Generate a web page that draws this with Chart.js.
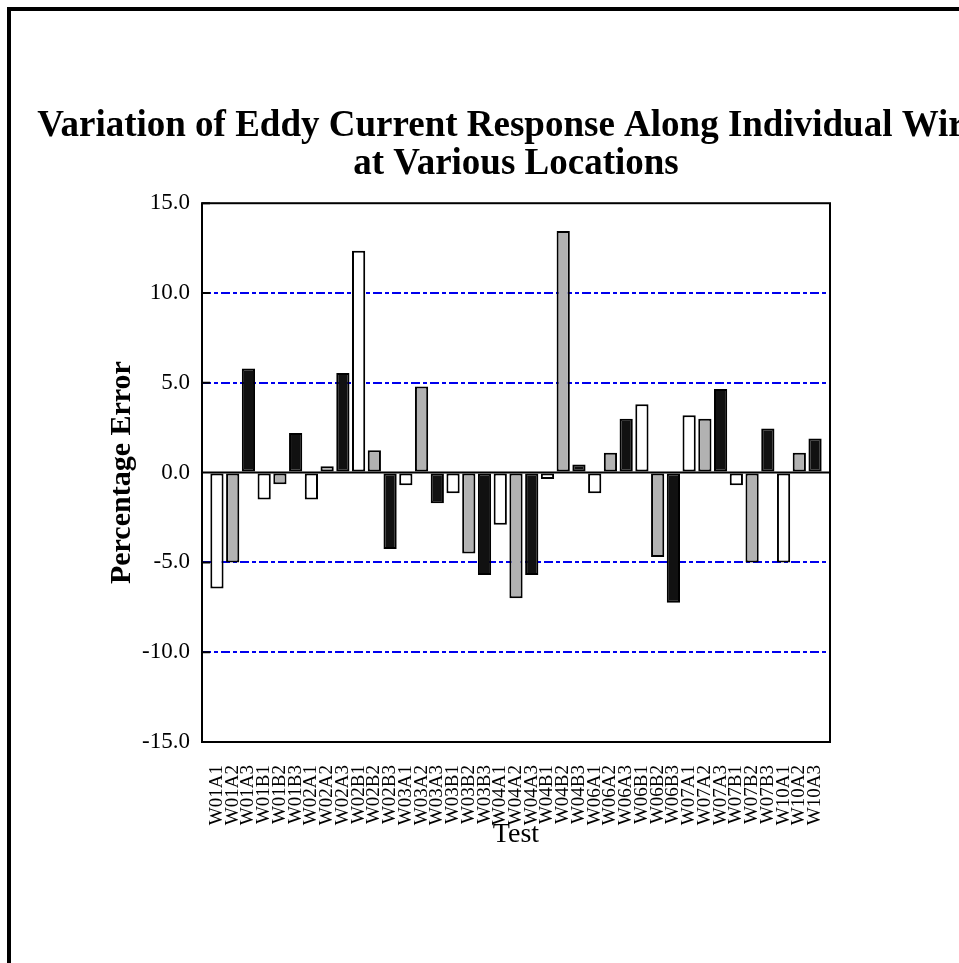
<!DOCTYPE html>
<html>
<head>
<meta charset="utf-8">
<title>Eddy Current Response</title>
<script src="https://cdn.jsdelivr.net/npm/chart.js@4/dist/chart.umd.min.js"></script>
<style>
  body { margin: 0; overflow: hidden; background: #fff; }
  #frame { position: absolute; left: 7px; top: 7px; border: 4px solid #000; width: 1010px; height: 1000px; }
  canvas { display: block; }
</style>
</head>
<body>
<div id="frame"><canvas id="chart" width="1010" height="1000"></canvas></div>
<script>
// test ids along the x axis
const tests = [
  'W01A1', 'W01A2', 'W01A3', 'W01B1', 'W01B2', 'W01B3',
  'W02A1', 'W02A2', 'W02A3', 'W02B1', 'W02B2', 'W02B3',
  'W03A1', 'W03A2', 'W03A3', 'W03B1', 'W03B2', 'W03B3',
  'W04A1', 'W04A2', 'W04A3', 'W04B1', 'W04B2', 'W04B3',
  'W06A1', 'W06A2', 'W06A3', 'W06B1', 'W06B2', 'W06B3',
  'W07A1', 'W07A2', 'W07A3', 'W07B1', 'W07B2', 'W07B3',
  'W10A1', 'W10A2', 'W10A3'
];

// percentage error per test
const errors = [
  -6.45, -5.0, 5.8, -1.5, -0.65, 2.2,
  -1.5, 0.35, 5.55, 12.35, 1.25, -4.25,
  -0.7, 4.8, -1.7, -1.15, -4.5, -5.7,
  -2.9, -7.0, -5.7, -0.35, 13.45, 0.45,
  -1.15, 1.1, 3.0, 3.8, -4.7, -7.25,
  3.2, 3.0, 4.65, -0.7, -5.0, 2.45,
  -5.0, 1.1, 1.9
];

const titleLines = ['Variation of Eddy Current Response Along Individual Wires', 'at Various Locations'];
const gridValues = [-10, -5, 5, 10];

// A1/B1 white, A2/B2 grey, A3/B3 black
const shades = ['#ffffff', '#b2b2b2', '#111111'];
const serif = "'Liberation Serif', 'Times New Roman', serif";

Chart.defaults.color = '#000';
Chart.defaults.font.family = serif;

// zero line, inward ticks and the plot box
const plotFrame = {
  id: 'plotFrame',
  afterDatasetsDraw(chart) {
    const { ctx, chartArea: a, scales: { y } } = chart;
    ctx.save();
    ctx.strokeStyle = '#000';
    ctx.lineWidth = 2;
    const y0 = y.getPixelForValue(0);
    ctx.beginPath();
    ctx.moveTo(a.left, y0);
    ctx.lineTo(a.right, y0);
    y.ticks.forEach(t => {
      const py = y.getPixelForValue(t.value);
      ctx.moveTo(a.left, py);
      ctx.lineTo(a.left + 8, py);
    });
    ctx.stroke();
    ctx.strokeRect(a.left, a.top, a.right - a.left, a.bottom - a.top);
    ctx.restore();
  }
};

const ctx = document.getElementById('chart');
const chart = new Chart(ctx, {
  type: 'bar',
  data: {
    datasets: [{
      data: tests.map((t, i) => ({ x: i, y: errors[i] })),
      backgroundColor: tests.map((t, i) => shades[i % 3]),
      borderColor: '#000',
      borderWidth: 2,
      borderSkipped: false,
      barPercentage: 0.84,
      categoryPercentage: 1
    }]
  },
  options: {
    responsive: false,
    animation: false,
    layout: { padding: { bottom: 149 } },
    plugins: {
      legend: { display: false },
      tooltip: { enabled: false },
      title: {
        display: true,
        text: titleLines,
        font: { size: 37, weight: 'bold', lineHeight: 1.03 },
        padding: { top: 96, bottom: 20 }
      }
    },
    scales: {
      x: {
        type: 'linear',
        offset: false,
        min: -0.95,
        max: 38.95,
        afterBuildTicks: s => { s.ticks = tests.map((t, i) => ({ value: i })); },
        afterFit: s => { s.height = 120; },
        grid: { display: false, drawTicks: false, offset: false },
        border: { display: false },
        ticks: {
          autoSkip: false,
          minRotation: 90,
          maxRotation: 90,
          padding: 23,
          font: { size: 19 },
          callback: v => tests[v]
        },
        title: { display: true, text: 'Test', font: { size: 28 }, padding: { top: 0, bottom: 11 } }
      },
      y: {
        min: -15,
        max: 15,
        afterFit: s => { s.width = 191; },
        ticks: { stepSize: 5, padding: 12, font: { size: 23 }, callback: v => v.toFixed(1) },
        grid: {
          drawTicks: false,
          lineWidth: 2,
          color: c => gridValues.includes(c.tick.value) ? '#0000ee' : 'rgba(0,0,0,0)'
        },
        border: { display: false, dash: [9, 3, 4, 3] },
        title: {
          display: true,
          text: 'Percentage Error',
          font: { size: 30, weight: 'bold' },
          padding: { top: 93, bottom: 0 }
        }
      },
      y2: {
        position: 'right',
        afterFit: s => { s.width = 191; },
        grid: { display: false },
        border: { display: false },
        ticks: { display: false }
      }
    }
  },
  plugins: [plotFrame]
});
</script>
</body>
</html>
